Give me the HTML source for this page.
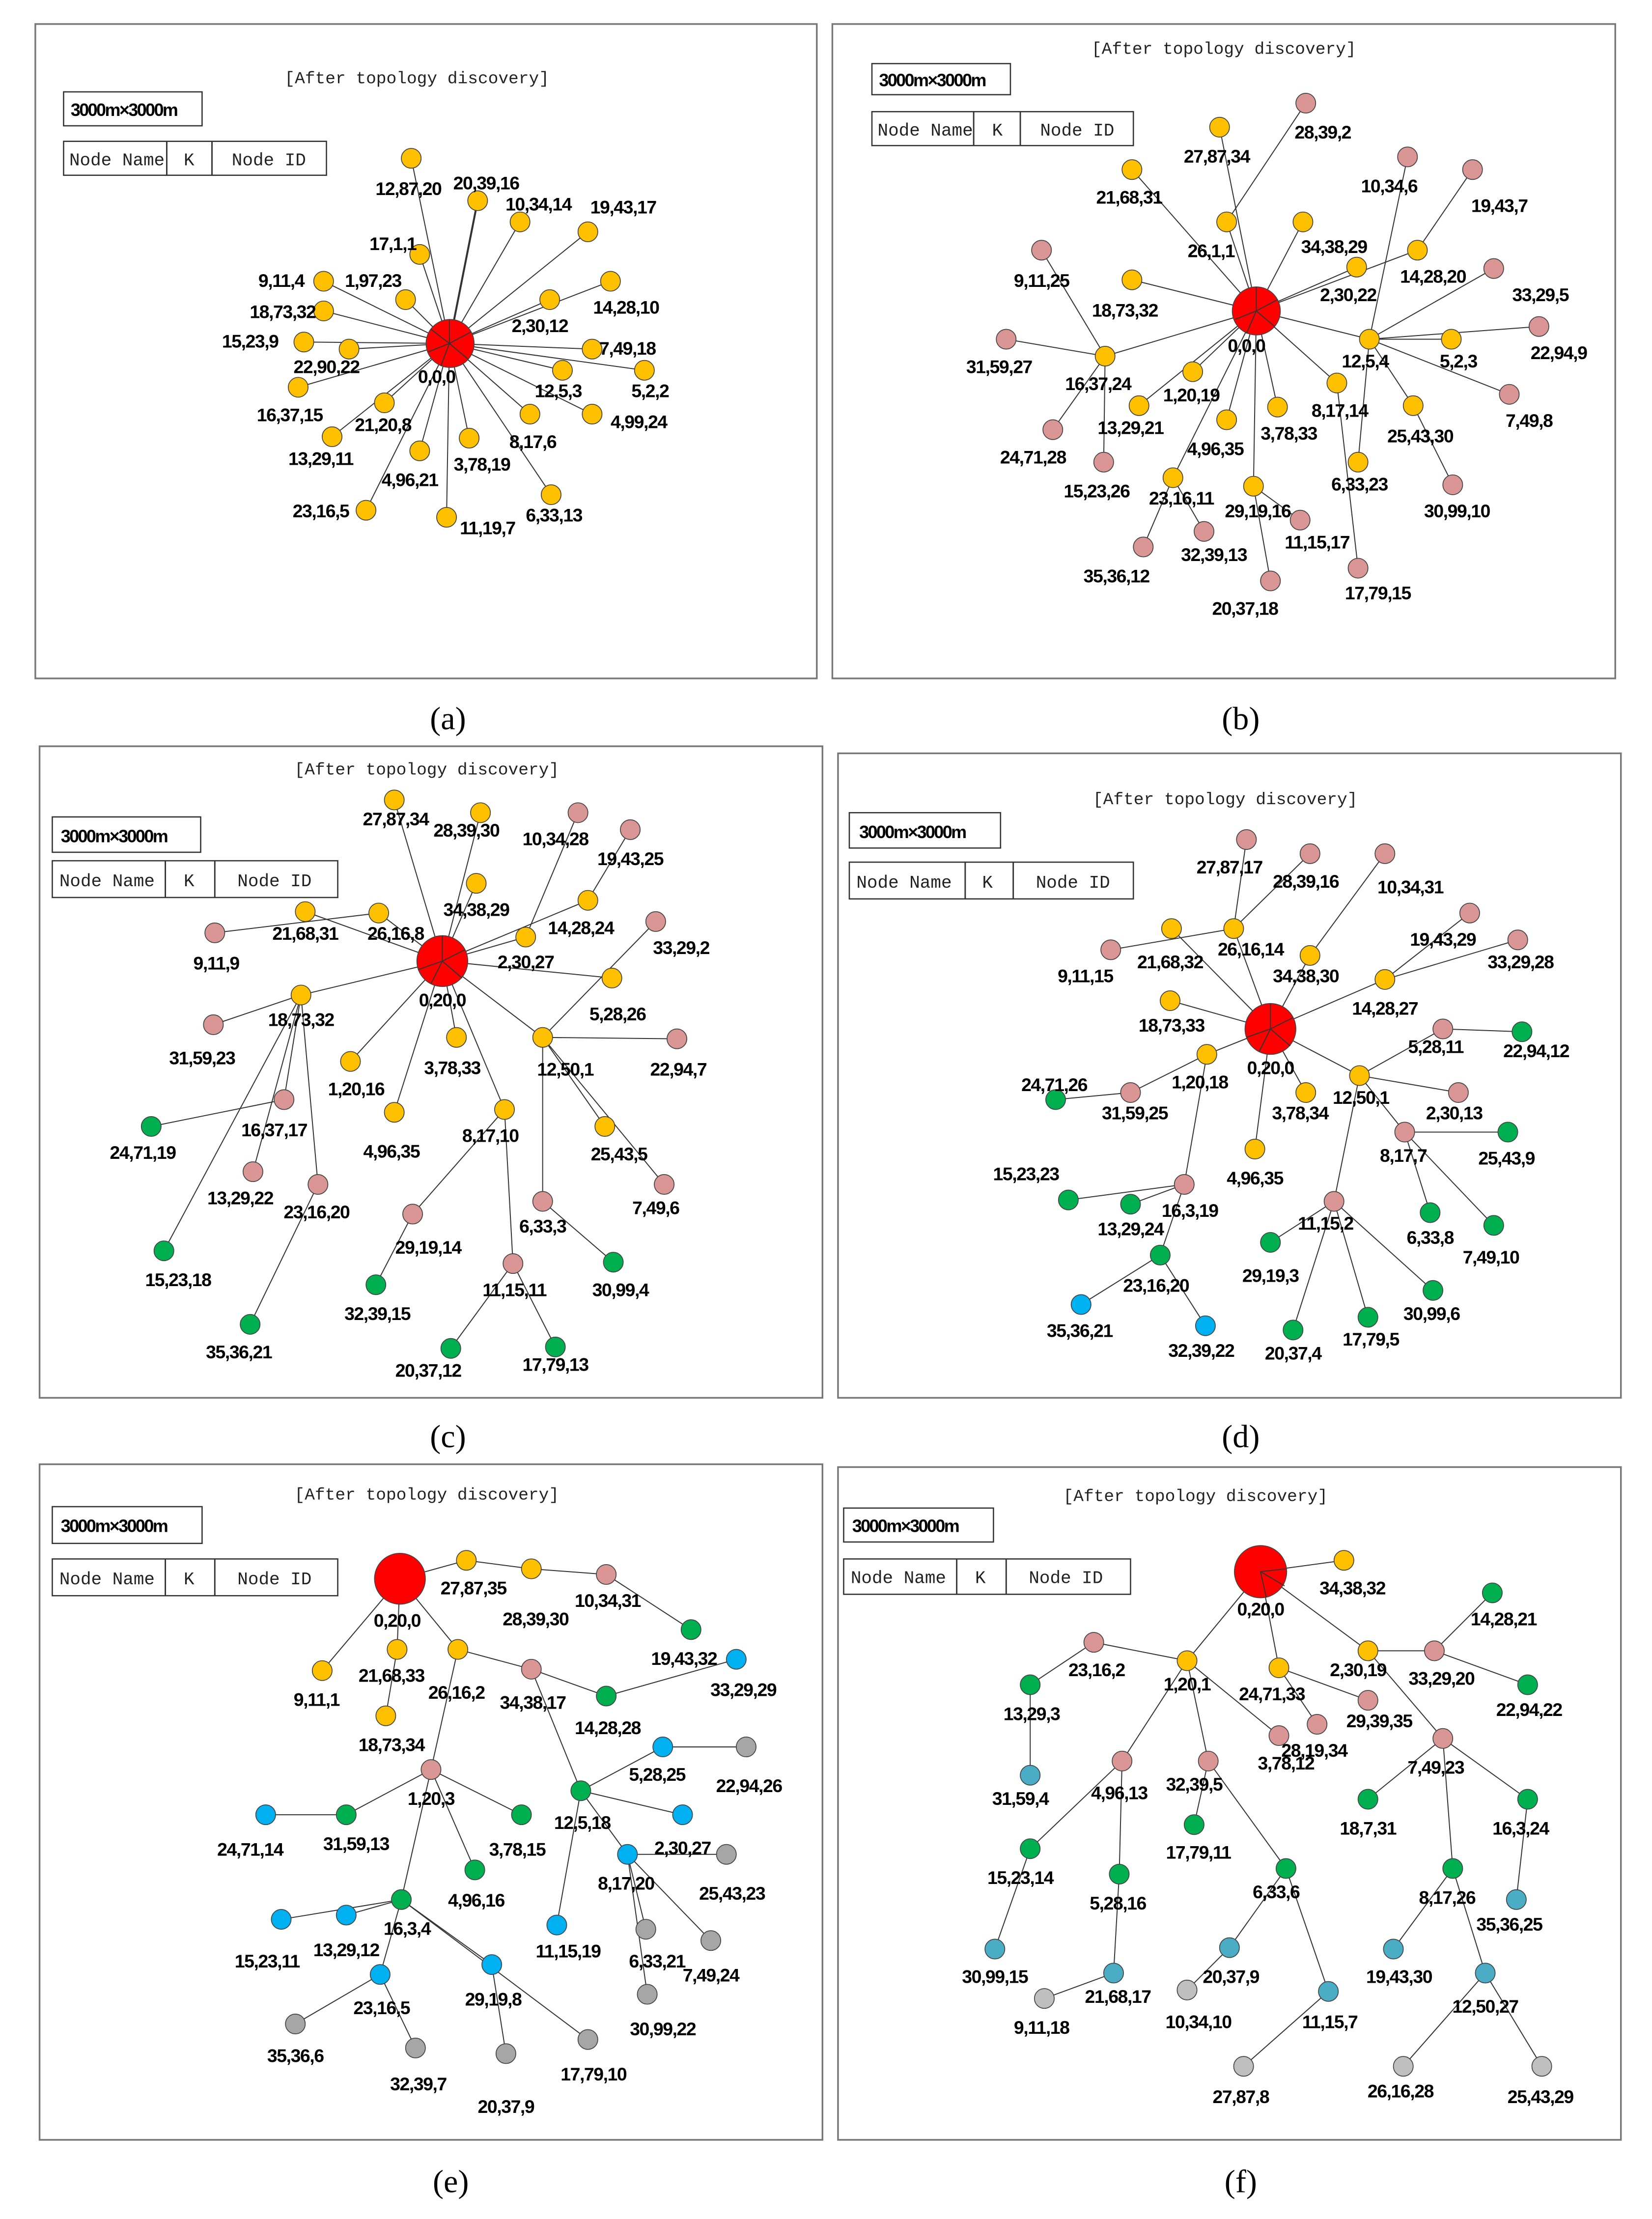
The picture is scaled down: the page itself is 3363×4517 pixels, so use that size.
<!DOCTYPE html>
<html><head><meta charset="utf-8">
<style>
html,body{margin:0;padding:0;background:#fff}
svg{display:block}
.l line{stroke:#333;stroke-width:.7}
circle{stroke:#444;stroke-width:.6}
.y{fill:#ffc000}.p{fill:#d99694}.g{fill:#00b050}.b{fill:#00b0f0}.gr{fill:#a6a6a6}.t{fill:#4bacc6}.s{fill:#bfbfbf}.r{fill:#ff0000}
text.n{font-family:"Liberation Sans",sans-serif;font-weight:bold;font-size:13px;text-anchor:middle;letter-spacing:-0.5px;fill:#000}
text.h{font-family:"Liberation Mono",monospace;font-size:12px;text-anchor:middle;fill:#222}
text.k{font-family:"Liberation Sans",sans-serif;font-weight:bold;font-size:12.5px;letter-spacing:-0.9px;fill:#000}
text.m{font-family:"Liberation Mono",monospace;font-size:12.5px;fill:#222}
text.c{font-family:"Liberation Serif",serif;font-size:23px;text-anchor:middle;fill:#000}
rect.f{fill:none;stroke:#777;stroke-width:1.2}
rect.o{fill:#fff;stroke:#333;stroke-width:.9}
</style></head><body>
<svg xmlns="http://www.w3.org/2000/svg" width="3363" height="4517" viewBox="0 0 1169 1570" preserveAspectRatio="none">
<rect width="1169" height="1570" fill="#fff"/>
<rect class="f" x="25" y="17" width="553" height="463"/>
<rect class="f" x="589" y="17" width="554" height="463"/>
<rect class="f" x="28" y="528" width="554" height="461"/>
<rect class="f" x="593" y="533" width="554" height="456"/>
<rect class="f" x="28" y="1036" width="554" height="478"/>
<rect class="f" x="593" y="1038" width="554" height="476"/>
<text class="c" x="317" y="516">(a)</text>
<text class="c" x="878" y="516">(b)</text>
<text class="c" x="317" y="1024">(c)</text>
<text class="c" x="878" y="1024">(d)</text>
<text class="c" x="319" y="1551">(e)</text>
<text class="c" x="878" y="1551">(f)</text>
<text class="h" x="295" y="59">[After topology discovery]</text>
<rect class="o" x="45" y="65" width="98" height="24"/><text class="k" x="50" y="82">3000m×3000m</text>
<rect class="o" x="45" y="100" width="186" height="24"/><line x1="118" y1="100" x2="118" y2="124" stroke="#333"/><line x1="150" y1="100" x2="150" y2="124" stroke="#333"/>
<text class="m" x="49" y="117">Node Name</text><text class="m" x="130" y="117">K</text><text class="m" x="164" y="117">Node ID</text>

<text class="h" x="866" y="38">[After topology discovery]</text>
<rect class="o" x="617" y="45" width="98" height="22"/><text class="k" x="622" y="61">3000m×3000m</text>
<rect class="o" x="617" y="79" width="185" height="24"/><line x1="689" y1="79" x2="689" y2="103" stroke="#333"/><line x1="722" y1="79" x2="722" y2="103" stroke="#333"/>
<text class="m" x="621" y="96">Node Name</text><text class="m" x="702" y="96">K</text><text class="m" x="736" y="96">Node ID</text>

<text class="h" x="302" y="548">[After topology discovery]</text>
<rect class="o" x="37" y="578" width="105" height="25"/><text class="k" x="43" y="596">3000m×3000m</text>
<rect class="o" x="37" y="609" width="202" height="26"/><line x1="117" y1="609" x2="117" y2="635" stroke="#333"/><line x1="152" y1="609" x2="152" y2="635" stroke="#333"/>
<text class="m" x="42" y="627">Node Name</text><text class="m" x="130" y="627">K</text><text class="m" x="168" y="627">Node ID</text>

<text class="h" x="867" y="569">[After topology discovery]</text>
<rect class="o" x="601" y="575" width="107" height="25"/><text class="k" x="608" y="593">3000m×3000m</text>
<rect class="o" x="601" y="610" width="201" height="26"/><line x1="683" y1="610" x2="683" y2="636" stroke="#333"/><line x1="717" y1="610" x2="717" y2="636" stroke="#333"/>
<text class="m" x="606" y="628">Node Name</text><text class="m" x="695" y="628">K</text><text class="m" x="733" y="628">Node ID</text>

<text class="h" x="302" y="1061">[After topology discovery]</text>
<rect class="o" x="37" y="1066" width="106" height="26"/><text class="k" x="43" y="1084">3000m×3000m</text>
<rect class="o" x="37" y="1103" width="202" height="26"/><line x1="117" y1="1103" x2="117" y2="1129" stroke="#333"/><line x1="152" y1="1103" x2="152" y2="1129" stroke="#333"/>
<text class="m" x="42" y="1121">Node Name</text><text class="m" x="130" y="1121">K</text><text class="m" x="168" y="1121">Node ID</text>

<text class="h" x="846" y="1062">[After topology discovery]</text>
<rect class="o" x="597" y="1067" width="106" height="24"/><text class="k" x="603" y="1084">3000m×3000m</text>
<rect class="o" x="597" y="1103" width="203" height="25"/><line x1="677" y1="1103" x2="677" y2="1128" stroke="#333"/><line x1="712" y1="1103" x2="712" y2="1128" stroke="#333"/>
<text class="m" x="602" y="1120">Node Name</text><text class="m" x="690" y="1120">K</text><text class="m" x="728" y="1120">Node ID</text>

<!-- ===== (a) ===== -->
<g class="l">
<line x1="318" y1="243" x2="291" y2="112"/><line x1="318" y1="243" x2="338" y2="142" style="stroke-width:1.4"/><line x1="318" y1="243" x2="368" y2="157"/><line x1="318" y1="243" x2="416" y2="164"/><line x1="318" y1="243" x2="297" y2="180"/><line x1="318" y1="243" x2="229" y2="199"/><line x1="318" y1="243" x2="287" y2="212"/><line x1="318" y1="243" x2="229" y2="220"/><line x1="318" y1="243" x2="215" y2="242"/><line x1="318" y1="243" x2="247" y2="247"/><line x1="318" y1="243" x2="211" y2="274"/><line x1="318" y1="243" x2="272" y2="285"/><line x1="318" y1="243" x2="235" y2="309"/><line x1="318" y1="243" x2="297" y2="319"/><line x1="318" y1="243" x2="332" y2="310"/><line x1="318" y1="243" x2="259" y2="361"/><line x1="318" y1="243" x2="316" y2="366"/><line x1="318" y1="243" x2="390" y2="350"/><line x1="318" y1="243" x2="375" y2="293"/><line x1="318" y1="243" x2="398" y2="262"/><line x1="318" y1="243" x2="419" y2="293"/><line x1="318" y1="243" x2="456" y2="262"/><line x1="318" y1="243" x2="419" y2="247"/><line x1="318" y1="243" x2="432" y2="199"/><line x1="318" y1="243" x2="389" y2="212"/>
</g>
<circle class="r" cx="318.5" cy="243" r="17"/>
<g class="l"><line x1="318" y1="243" x2="318" y2="226"/><line x1="318" y1="243" x2="333" y2="235"/><line x1="318" y1="243" x2="331" y2="254"/><line x1="318" y1="243" x2="312" y2="259"/><line x1="318" y1="243" x2="303" y2="249"/><line x1="318" y1="243" x2="305" y2="233"/></g>
<g class="y">
<circle cx="291" cy="112" r="7"/><circle cx="338" cy="142" r="7"/><circle cx="368" cy="157" r="7"/><circle cx="416" cy="164" r="7"/><circle cx="297" cy="180" r="7"/><circle cx="229" cy="199" r="7"/><circle cx="287" cy="212" r="7"/><circle cx="229" cy="220" r="7"/><circle cx="215" cy="242" r="7"/><circle cx="247" cy="247" r="7"/><circle cx="211" cy="274" r="7"/><circle cx="272" cy="285" r="7"/><circle cx="235" cy="309" r="7"/><circle cx="297" cy="319" r="7"/><circle cx="332" cy="310" r="7"/><circle cx="259" cy="361" r="7"/><circle cx="316" cy="366" r="7"/><circle cx="390" cy="350" r="7"/><circle cx="375" cy="293" r="7"/><circle cx="398" cy="262" r="7"/><circle cx="419" cy="293" r="7"/><circle cx="456" cy="262" r="7"/><circle cx="419" cy="247" r="7"/><circle cx="432" cy="199" r="7"/><circle cx="389" cy="212" r="7"/>
</g>
<g>
<text class="n" x="289" y="138">12,87,20</text><text class="n" x="344" y="134">20,39,16</text><text class="n" x="381" y="149">10,34,14</text><text class="n" x="441" y="151">19,43,17</text><text class="n" x="278" y="177">17,1,1</text><text class="n" x="199" y="203">9,11,4</text><text class="n" x="264" y="203">1,97,23</text><text class="n" x="200" y="225">18,73,32</text><text class="n" x="177" y="246">15,23,9</text><text class="n" x="231" y="264">22,90,22</text><text class="n" x="309" y="271">0,0,0</text><text class="n" x="205" y="298">16,37,15</text><text class="n" x="271" y="305">21,20,8</text><text class="n" x="227" y="329">13,29,11</text><text class="n" x="290" y="344">4,96,21</text><text class="n" x="341" y="333">3,78,19</text><text class="n" x="227" y="366">23,16,5</text><text class="n" x="345" y="378">11,19,7</text><text class="n" x="392" y="369">6,33,13</text><text class="n" x="377" y="317">8,17,6</text><text class="n" x="395" y="281">12,5,3</text><text class="n" x="452" y="303">4,99,24</text><text class="n" x="460" y="281">5,2,2</text><text class="n" x="444" y="251">7,49,18</text><text class="n" x="443" y="222">14,28,10</text><text class="n" x="382" y="235">2,30,12</text>
</g>

<!-- ===== (b) ===== -->
<g class="l">
<line x1="889" y1="220" x2="863" y2="90"/><line x1="889" y1="220" x2="801" y2="120"/><line x1="889" y1="220" x2="868" y2="157"/><line x1="889" y1="220" x2="922" y2="157"/><line x1="889" y1="220" x2="960" y2="189"/><line x1="889" y1="220" x2="1003" y2="177"/><line x1="889" y1="220" x2="801" y2="198"/><line x1="889" y1="220" x2="782" y2="252"/><line x1="889" y1="220" x2="969" y2="240"/><line x1="889" y1="220" x2="844" y2="263"/><line x1="889" y1="220" x2="806" y2="287"/><line x1="889" y1="220" x2="946" y2="271"/><line x1="889" y1="220" x2="904" y2="288"/><line x1="889" y1="220" x2="868" y2="297"/><line x1="889" y1="220" x2="830" y2="338"/><line x1="889" y1="220" x2="887" y2="344"/>
<line x1="868" y1="157" x2="924" y2="73"/><line x1="969" y1="240" x2="996" y2="111"/><line x1="1003" y1="177" x2="1042" y2="120"/><line x1="969" y1="240" x2="1057" y2="190"/><line x1="969" y1="240" x2="1089" y2="231"/><line x1="969" y1="240" x2="1068" y2="279"/><line x1="969" y1="240" x2="1027" y2="240"/><line x1="969" y1="240" x2="1000" y2="287"/><line x1="969" y1="240" x2="961" y2="327"/><line x1="1000" y1="287" x2="1028" y2="343"/><line x1="946" y1="271" x2="961" y2="402"/>
<line x1="782" y1="252" x2="737" y2="177"/><line x1="782" y1="252" x2="712" y2="240"/><line x1="782" y1="252" x2="745" y2="304"/><line x1="782" y1="252" x2="781" y2="327"/><line x1="830" y1="338" x2="809" y2="387"/><line x1="830" y1="338" x2="852" y2="376"/><line x1="887" y1="344" x2="920" y2="368"/><line x1="887" y1="344" x2="899" y2="411"/>
</g>
<circle class="r" cx="889" cy="220" r="17"/>
<g class="l"><line x1="889" y1="220" x2="889" y2="203"/><line x1="889" y1="220" x2="904" y2="212"/><line x1="889" y1="220" x2="902" y2="231"/><line x1="889" y1="220" x2="882" y2="236"/><line x1="889" y1="220" x2="874" y2="226"/></g>
<g class="y"><circle cx="863" cy="90" r="7"/><circle cx="801" cy="120" r="7"/><circle cx="868" cy="157" r="7"/><circle cx="922" cy="157" r="7"/><circle cx="960" cy="189" r="7"/><circle cx="1003" cy="177" r="7"/><circle cx="801" cy="198" r="7"/><circle cx="782" cy="252" r="7"/><circle cx="969" cy="240" r="7"/><circle cx="1027" cy="240" r="7"/><circle cx="844" cy="263" r="7"/><circle cx="806" cy="287" r="7"/><circle cx="946" cy="271" r="7"/><circle cx="904" cy="288" r="7"/><circle cx="868" cy="297" r="7"/><circle cx="1000" cy="287" r="7"/><circle cx="961" cy="327" r="7"/><circle cx="830" cy="338" r="7"/><circle cx="887" cy="344" r="7"/></g>
<g class="p"><circle cx="924" cy="73" r="7"/><circle cx="996" cy="111" r="7"/><circle cx="1042" cy="120" r="7"/><circle cx="737" cy="177" r="7"/><circle cx="1057" cy="190" r="7"/><circle cx="1089" cy="231" r="7"/><circle cx="712" cy="240" r="7"/><circle cx="1068" cy="279" r="7"/><circle cx="745" cy="304" r="7"/><circle cx="781" cy="327" r="7"/><circle cx="1028" cy="343" r="7"/><circle cx="920" cy="368" r="7"/><circle cx="852" cy="376" r="7"/><circle cx="809" cy="387" r="7"/><circle cx="961" cy="402" r="7"/><circle cx="899" cy="411" r="7"/></g>
<g>
<text class="n" x="861" y="115">27,87,34</text><text class="n" x="936" y="98">28,39,2</text><text class="n" x="799" y="144">21,68,31</text><text class="n" x="983" y="136">10,34,6</text><text class="n" x="1061" y="150">19,43,7</text><text class="n" x="857" y="182">26,1,1</text><text class="n" x="944" y="179">34,38,29</text><text class="n" x="737" y="203">9,11,25</text><text class="n" x="954" y="213">2,30,22</text><text class="n" x="1014" y="200">14,28,20</text><text class="n" x="1090" y="213">33,29,5</text><text class="n" x="796" y="224">18,73,32</text><text class="n" x="1103" y="254">22,94,9</text><text class="n" x="707" y="264">31,59,27</text><text class="n" x="777" y="276">16,37,24</text><text class="n" x="882" y="249">0,0,0</text><text class="n" x="966" y="260">12,5,4</text><text class="n" x="1032" y="260">5,2,3</text><text class="n" x="843" y="284">1,20,19</text><text class="n" x="800" y="307">13,29,21</text><text class="n" x="1082" y="302">7,49,8</text><text class="n" x="948" y="295">8,17,14</text><text class="n" x="912" y="311">3,78,33</text><text class="n" x="731" y="328">24,71,28</text><text class="n" x="860" y="322">4,96,35</text><text class="n" x="1005" y="313">25,43,30</text><text class="n" x="776" y="352">15,23,26</text><text class="n" x="962" y="347">6,33,23</text><text class="n" x="836" y="357">23,16,11</text><text class="n" x="890" y="366">29,19,16</text><text class="n" x="1031" y="366">30,99,10</text><text class="n" x="932" y="388">11,15,17</text><text class="n" x="859" y="397">32,39,13</text><text class="n" x="790" y="412">35,36,12</text><text class="n" x="975" y="424">17,79,15</text><text class="n" x="881" y="435">20,37,18</text>
</g>

<!-- ===== (c) ===== -->
<g class="l">
<line x1="313" y1="680" x2="279" y2="566"/><line x1="313" y1="680" x2="340" y2="575"/><line x1="313" y1="680" x2="337" y2="625"/><line x1="313" y1="680" x2="416" y2="637"/><line x1="313" y1="680" x2="268" y2="646"/><line x1="313" y1="680" x2="216" y2="645"/><line x1="313" y1="680" x2="372" y2="663"/><line x1="313" y1="680" x2="433" y2="692"/><line x1="313" y1="680" x2="213" y2="704"/><line x1="313" y1="680" x2="248" y2="751"/><line x1="313" y1="680" x2="323" y2="734"/><line x1="313" y1="680" x2="279" y2="787"/><line x1="313" y1="680" x2="357" y2="785"/><line x1="313" y1="680" x2="384" y2="734"/>
<line x1="372" y1="663" x2="409" y2="575"/><line x1="416" y1="637" x2="446" y2="587"/><line x1="384" y1="734" x2="464" y2="652"/><line x1="268" y1="646" x2="152" y2="660"/><line x1="213" y1="704" x2="151" y2="725"/><line x1="213" y1="704" x2="201" y2="778"/><line x1="213" y1="704" x2="179" y2="829"/><line x1="213" y1="704" x2="225" y2="838"/><line x1="201" y1="778" x2="107" y2="797"/><line x1="213" y1="704" x2="116" y2="885"/><line x1="225" y1="838" x2="177" y2="937"/>
<line x1="384" y1="734" x2="479" y2="735"/><line x1="384" y1="734" x2="428" y2="797"/><line x1="384" y1="734" x2="470" y2="838"/><line x1="384" y1="734" x2="384" y2="850"/><line x1="384" y1="850" x2="434" y2="893"/><line x1="357" y1="785" x2="292" y2="859"/><line x1="292" y1="859" x2="266" y2="909"/><line x1="357" y1="785" x2="363" y2="894"/><line x1="363" y1="894" x2="319" y2="954"/><line x1="363" y1="894" x2="393" y2="953"/>
</g>
<circle class="r" cx="313" cy="680" r="18"/>
<g class="l"><line x1="313" y1="680" x2="313" y2="662"/><line x1="313" y1="680" x2="329" y2="672"/><line x1="313" y1="680" x2="327" y2="692"/><line x1="313" y1="680" x2="305" y2="696"/><line x1="313" y1="680" x2="296" y2="686"/></g>
<g class="y"><circle cx="279" cy="566" r="7"/><circle cx="340" cy="575" r="7"/><circle cx="337" cy="625" r="7"/><circle cx="416" cy="637" r="7"/><circle cx="268" cy="646" r="7"/><circle cx="216" cy="645" r="7"/><circle cx="372" cy="663" r="7"/><circle cx="433" cy="692" r="7"/><circle cx="213" cy="704" r="7"/><circle cx="248" cy="751" r="7"/><circle cx="323" cy="734" r="7"/><circle cx="279" cy="787" r="7"/><circle cx="357" cy="785" r="7"/><circle cx="384" cy="734" r="7"/><circle cx="428" cy="797" r="7"/></g>
<g class="p"><circle cx="409" cy="575" r="7"/><circle cx="446" cy="587" r="7"/><circle cx="464" cy="652" r="7"/><circle cx="152" cy="660" r="7"/><circle cx="151" cy="725" r="7"/><circle cx="479" cy="735" r="7"/><circle cx="201" cy="778" r="7"/><circle cx="470" cy="838" r="7"/><circle cx="179" cy="829" r="7"/><circle cx="225" cy="838" r="7"/><circle cx="384" cy="850" r="7"/><circle cx="292" cy="859" r="7"/><circle cx="363" cy="894" r="7"/></g>
<g class="g"><circle cx="107" cy="797" r="7"/><circle cx="116" cy="885" r="7"/><circle cx="434" cy="893" r="7"/><circle cx="266" cy="909" r="7"/><circle cx="177" cy="937" r="7"/><circle cx="319" cy="954" r="7"/><circle cx="393" cy="953" r="7"/></g>
<g>
<text class="n" x="280" y="584">27,87,34</text><text class="n" x="330" y="592">28,39,30</text><text class="n" x="393" y="598">10,34,28</text><text class="n" x="446" y="612">19,43,25</text><text class="n" x="337" y="648">34,38,29</text><text class="n" x="411" y="661">14,28,24</text><text class="n" x="482" y="675">33,29,2</text><text class="n" x="216" y="665">21,68,31</text><text class="n" x="280" y="665">26,16,8</text><text class="n" x="153" y="686">9,11,9</text><text class="n" x="372" y="685">2,30,27</text><text class="n" x="313" y="712">0,20,0</text><text class="n" x="437" y="722">5,28,26</text><text class="n" x="213" y="726">18,73,32</text><text class="n" x="143" y="753">31,59,23</text><text class="n" x="400" y="761">12,50,1</text><text class="n" x="480" y="761">22,94,7</text><text class="n" x="252" y="775">1,20,16</text><text class="n" x="320" y="760">3,78,33</text><text class="n" x="194" y="804">16,37,17</text><text class="n" x="101" y="820">24,71,19</text><text class="n" x="277" y="819">4,96,35</text><text class="n" x="347" y="808">8,17,10</text><text class="n" x="438" y="821">25,43,5</text><text class="n" x="464" y="859">7,49,6</text><text class="n" x="170" y="852">13,29,22</text><text class="n" x="224" y="862">23,16,20</text><text class="n" x="384" y="872">6,33,3</text><text class="n" x="303" y="887">29,19,14</text><text class="n" x="126" y="910">15,23,18</text><text class="n" x="439" y="917">30,99,4</text><text class="n" x="364" y="917">11,15,11</text><text class="n" x="267" y="934">32,39,15</text><text class="n" x="169" y="961">35,36,21</text><text class="n" x="303" y="974">20,37,12</text><text class="n" x="393" y="970">17,79,13</text>
</g>

<!-- ===== (d) ===== -->
<g class="l">
<line x1="899" y1="728" x2="873" y2="657"/><line x1="899" y1="728" x2="927" y2="676"/><line x1="899" y1="728" x2="980" y2="693"/><line x1="899" y1="728" x2="828" y2="708"/><line x1="899" y1="728" x2="829" y2="657"/><line x1="899" y1="728" x2="854" y2="746"/><line x1="899" y1="728" x2="924" y2="773"/><line x1="899" y1="728" x2="962" y2="761"/><line x1="899" y1="728" x2="888" y2="813"/>
<line x1="873" y1="657" x2="882" y2="594"/><line x1="873" y1="657" x2="927" y2="604"/><line x1="873" y1="657" x2="786" y2="672"/><line x1="927" y1="676" x2="980" y2="604"/><line x1="980" y1="693" x2="1040" y2="646"/><line x1="980" y1="693" x2="1074" y2="665"/>
<line x1="962" y1="761" x2="1021" y2="728"/><line x1="1021" y1="728" x2="1077" y2="730"/><line x1="962" y1="761" x2="1032" y2="773"/><line x1="962" y1="761" x2="994" y2="801"/><line x1="994" y1="801" x2="1067" y2="801"/><line x1="994" y1="801" x2="1012" y2="858"/><line x1="994" y1="801" x2="1057" y2="867"/><line x1="962" y1="761" x2="944" y2="850"/><line x1="944" y1="850" x2="899" y2="879"/><line x1="944" y1="850" x2="1014" y2="913"/><line x1="944" y1="850" x2="968" y2="932"/><line x1="944" y1="850" x2="915" y2="941"/>
<line x1="854" y1="746" x2="800" y2="773"/><line x1="800" y1="773" x2="747" y2="778"/><line x1="854" y1="746" x2="838" y2="838"/><line x1="838" y1="838" x2="756" y2="849"/><line x1="838" y1="838" x2="800" y2="852"/><line x1="838" y1="838" x2="821" y2="888"/><line x1="821" y1="888" x2="765" y2="923"/><line x1="821" y1="888" x2="853" y2="938"/>
</g>
<circle class="r" cx="899" cy="728" r="18"/>
<g class="l"><line x1="899" y1="728" x2="899" y2="710"/><line x1="899" y1="728" x2="915" y2="720"/><line x1="899" y1="728" x2="913" y2="740"/><line x1="899" y1="728" x2="891" y2="744"/><line x1="899" y1="728" x2="882" y2="734"/></g>
<g class="y"><circle cx="873" cy="657" r="7"/><circle cx="927" cy="676" r="7"/><circle cx="980" cy="693" r="7"/><circle cx="828" cy="708" r="7"/><circle cx="829" cy="657" r="7"/><circle cx="854" cy="746" r="7"/><circle cx="924" cy="773" r="7"/><circle cx="962" cy="761" r="7"/><circle cx="888" cy="813" r="7"/></g>
<g class="p"><circle cx="882" cy="594" r="7"/><circle cx="927" cy="604" r="7"/><circle cx="980" cy="604" r="7"/><circle cx="1040" cy="646" r="7"/><circle cx="1074" cy="665" r="7"/><circle cx="786" cy="672" r="7"/><circle cx="1021" cy="728" r="7"/><circle cx="800" cy="773" r="7"/><circle cx="1032" cy="773" r="7"/><circle cx="994" cy="801" r="7"/><circle cx="838" cy="838" r="7"/><circle cx="944" cy="850" r="7"/></g>
<g class="g"><circle cx="1077" cy="730" r="7"/><circle cx="747" cy="778" r="7"/><circle cx="1067" cy="801" r="7"/><circle cx="756" cy="849" r="7"/><circle cx="800" cy="852" r="7"/><circle cx="1012" cy="858" r="7"/><circle cx="1057" cy="867" r="7"/><circle cx="899" cy="879" r="7"/><circle cx="821" cy="888" r="7"/><circle cx="1014" cy="913" r="7"/><circle cx="968" cy="932" r="7"/><circle cx="915" cy="941" r="7"/></g>
<g class="b"><circle cx="765" cy="923" r="7"/><circle cx="853" cy="938" r="7"/></g>
<g>
<text class="n" x="870" y="618">27,87,17</text><text class="n" x="924" y="628">28,39,16</text><text class="n" x="998" y="632">10,34,31</text><text class="n" x="1021" y="669">19,43,29</text><text class="n" x="1076" y="685">33,29,28</text><text class="n" x="768" y="695">9,11,15</text><text class="n" x="828" y="685">21,68,32</text><text class="n" x="885" y="676">26,16,14</text><text class="n" x="924" y="695">34,38,30</text><text class="n" x="980" y="718">14,28,27</text><text class="n" x="829" y="730">18,73,33</text><text class="n" x="1016" y="745">5,28,11</text><text class="n" x="1087" y="748">22,94,12</text><text class="n" x="849" y="770">1,20,18</text><text class="n" x="899" y="760">0,20,0</text><text class="n" x="746" y="772">24,71,26</text><text class="n" x="803" y="792">31,59,25</text><text class="n" x="920" y="792">3,78,34</text><text class="n" x="963" y="781">12,50,1</text><text class="n" x="1029" y="792">2,30,13</text><text class="n" x="993" y="822">8,17,7</text><text class="n" x="1066" y="824">25,43,9</text><text class="n" x="888" y="838">4,96,35</text><text class="n" x="726" y="835">15,23,23</text><text class="n" x="842" y="861">16,3,19</text><text class="n" x="800" y="874">13,29,24</text><text class="n" x="938" y="870">11,15,2</text><text class="n" x="1012" y="880">6,33,8</text><text class="n" x="1055" y="894">7,49,10</text><text class="n" x="899" y="907">29,19,3</text><text class="n" x="818" y="914">23,16,20</text><text class="n" x="1013" y="934">30,99,6</text><text class="n" x="764" y="946">35,36,21</text><text class="n" x="970" y="952">17,79,5</text><text class="n" x="850" y="960">32,39,22</text><text class="n" x="915" y="962">20,37,4</text>
</g>

<!-- ===== (e) ===== -->
<g class="l">
<line x1="283" y1="1117" x2="330" y2="1104"/><line x1="330" y1="1104" x2="376" y2="1110"/><line x1="376" y1="1110" x2="429" y2="1114"/><line x1="429" y1="1114" x2="489" y2="1153"/><line x1="283" y1="1117" x2="228" y2="1182"/><line x1="283" y1="1117" x2="281" y2="1167"/><line x1="281" y1="1167" x2="273" y2="1214"/><line x1="283" y1="1117" x2="324" y2="1167"/><line x1="324" y1="1167" x2="376" y2="1181"/><line x1="376" y1="1181" x2="429" y2="1200"/><line x1="429" y1="1200" x2="521" y2="1174"/><line x1="376" y1="1181" x2="411" y2="1267"/>
<line x1="324" y1="1167" x2="305" y2="1252"/><line x1="305" y1="1252" x2="245" y2="1284"/><line x1="245" y1="1284" x2="188" y2="1284"/><line x1="305" y1="1252" x2="369" y2="1284"/><line x1="305" y1="1252" x2="336" y2="1323"/><line x1="305" y1="1252" x2="284" y2="1344"/>
<line x1="411" y1="1267" x2="469" y2="1236"/><line x1="469" y1="1236" x2="528" y2="1236"/><line x1="411" y1="1267" x2="483" y2="1284"/><line x1="411" y1="1267" x2="444" y2="1312"/><line x1="411" y1="1267" x2="394" y2="1362"/><line x1="444" y1="1312" x2="514" y2="1312"/><line x1="444" y1="1312" x2="457" y2="1365"/><line x1="444" y1="1312" x2="503" y2="1373"/><line x1="444" y1="1312" x2="458" y2="1411"/>
<line x1="284" y1="1344" x2="199" y2="1358"/><line x1="284" y1="1344" x2="245" y2="1355"/><line x1="284" y1="1344" x2="269" y2="1397"/><line x1="284" y1="1344" x2="348" y2="1390"/><line x1="284" y1="1344" x2="416" y2="1443"/><line x1="269" y1="1397" x2="209" y2="1432"/><line x1="269" y1="1397" x2="294" y2="1449"/><line x1="348" y1="1390" x2="358" y2="1453"/>
</g>
<circle class="r" cx="283" cy="1117" r="18"/>
<g class="y"><circle cx="330" cy="1104" r="7"/><circle cx="376" cy="1110" r="7"/><circle cx="228" cy="1182" r="7"/><circle cx="281" cy="1167" r="7"/><circle cx="324" cy="1167" r="7"/><circle cx="273" cy="1214" r="7"/></g>
<g class="p"><circle cx="429" cy="1114" r="7"/><circle cx="376" cy="1181" r="7"/><circle cx="305" cy="1252" r="7"/></g>
<g class="g"><circle cx="489" cy="1153" r="7"/><circle cx="429" cy="1200" r="7"/><circle cx="411" cy="1267" r="7"/><circle cx="245" cy="1284" r="7"/><circle cx="369" cy="1284" r="7"/><circle cx="336" cy="1323" r="7"/><circle cx="284" cy="1344" r="7"/></g>
<g class="b"><circle cx="521" cy="1174" r="7"/><circle cx="469" cy="1236" r="7"/><circle cx="188" cy="1284" r="7"/><circle cx="483" cy="1284" r="7"/><circle cx="444" cy="1312" r="7"/><circle cx="394" cy="1362" r="7"/><circle cx="199" cy="1358" r="7"/><circle cx="245" cy="1355" r="7"/><circle cx="269" cy="1397" r="7"/><circle cx="348" cy="1390" r="7"/></g>
<g class="gr"><circle cx="528" cy="1236" r="7"/><circle cx="514" cy="1312" r="7"/><circle cx="457" cy="1365" r="7"/><circle cx="503" cy="1373" r="7"/><circle cx="458" cy="1411" r="7"/><circle cx="209" cy="1432" r="7"/><circle cx="294" cy="1449" r="7"/><circle cx="358" cy="1453" r="7"/><circle cx="416" cy="1443" r="7"/></g>
<g>
<text class="n" x="335" y="1128">27,87,35</text><text class="n" x="379" y="1150">28,39,30</text><text class="n" x="430" y="1137">10,34,31</text><text class="n" x="224" y="1207">9,11,1</text><text class="n" x="277" y="1190">21,68,33</text><text class="n" x="281" y="1151">0,20,0</text><text class="n" x="323" y="1202">26,16,2</text><text class="n" x="377" y="1209">34,38,17</text><text class="n" x="484" y="1178">19,43,32</text><text class="n" x="526" y="1200">33,29,29</text><text class="n" x="430" y="1227">14,28,28</text><text class="n" x="277" y="1239">18,73,34</text><text class="n" x="465" y="1260">5,28,25</text><text class="n" x="530" y="1268">22,94,26</text><text class="n" x="305" y="1277">1,20,3</text><text class="n" x="412" y="1294">12,5,18</text><text class="n" x="177" y="1313">24,71,14</text><text class="n" x="252" y="1309">31,59,13</text><text class="n" x="366" y="1313">3,78,15</text><text class="n" x="483" y="1312">2,30,27</text><text class="n" x="443" y="1337">8,17,20</text><text class="n" x="518" y="1344">25,43,23</text><text class="n" x="337" y="1349">4,96,16</text><text class="n" x="465" y="1392">6,33,21</text><text class="n" x="503" y="1402">7,49,24</text><text class="n" x="402" y="1385">11,15,19</text><text class="n" x="469" y="1440">30,99,22</text><text class="n" x="288" y="1369">16,3,4</text><text class="n" x="189" y="1392">15,23,11</text><text class="n" x="245" y="1384">13,29,12</text><text class="n" x="270" y="1425">23,16,5</text><text class="n" x="349" y="1419">29,19,8</text><text class="n" x="209" y="1459">35,36,6</text><text class="n" x="296" y="1479">32,39,7</text><text class="n" x="358" y="1495">20,37,9</text><text class="n" x="420" y="1472">17,79,10</text>
</g>

<!-- ===== (f) ===== -->
<g class="l">
<line x1="892" y1="1112" x2="951" y2="1104"/><line x1="892" y1="1112" x2="840" y2="1175"/><line x1="892" y1="1112" x2="905" y2="1180"/><line x1="892" y1="1112" x2="968" y2="1168"/>
<line x1="840" y1="1175" x2="774" y2="1162"/><line x1="774" y1="1162" x2="729" y2="1192"/><line x1="729" y1="1192" x2="729" y2="1256"/><line x1="840" y1="1175" x2="794" y2="1246"/><line x1="840" y1="1175" x2="855" y2="1246"/><line x1="840" y1="1175" x2="905" y2="1228"/>
<line x1="905" y1="1180" x2="968" y2="1203"/><line x1="905" y1="1180" x2="932" y2="1220"/><line x1="968" y1="1168" x2="1015" y2="1168"/><line x1="1015" y1="1168" x2="1056" y2="1127"/><line x1="1015" y1="1168" x2="1081" y2="1192"/><line x1="968" y1="1168" x2="1021" y2="1230"/>
<line x1="1021" y1="1230" x2="968" y2="1273"/><line x1="1021" y1="1230" x2="1081" y2="1273"/><line x1="1081" y1="1273" x2="1073" y2="1344"/><line x1="1021" y1="1230" x2="1028" y2="1322"/><line x1="1028" y1="1322" x2="986" y2="1379"/><line x1="1028" y1="1322" x2="1051" y2="1396"/><line x1="1051" y1="1396" x2="993" y2="1462"/><line x1="1051" y1="1396" x2="1091" y2="1462"/>
<line x1="794" y1="1246" x2="729" y2="1308"/><line x1="729" y1="1308" x2="704" y2="1379"/><line x1="794" y1="1246" x2="792" y2="1326"/><line x1="792" y1="1326" x2="788" y2="1396"/><line x1="788" y1="1396" x2="739" y2="1414"/>
<line x1="855" y1="1246" x2="845" y2="1291"/><line x1="855" y1="1246" x2="910" y2="1322"/><line x1="910" y1="1322" x2="870" y2="1378"/><line x1="870" y1="1378" x2="840" y2="1408"/><line x1="910" y1="1322" x2="940" y2="1409"/><line x1="940" y1="1409" x2="880" y2="1462"/>
</g>
<circle class="r" cx="892" cy="1112" r="18.5"/>
<g class="l"><line x1="892" y1="1112" x2="909" y2="1122"/><line x1="892" y1="1112" x2="896" y2="1130"/><line x1="892" y1="1112" x2="910" y2="1110"/></g>
<g class="y"><circle cx="951" cy="1104" r="7"/><circle cx="840" cy="1175" r="7"/><circle cx="905" cy="1180" r="7"/><circle cx="968" cy="1168" r="7"/></g>
<g class="p"><circle cx="774" cy="1162" r="7"/><circle cx="1015" cy="1168" r="7"/><circle cx="968" cy="1203" r="7"/><circle cx="932" cy="1220" r="7"/><circle cx="905" cy="1228" r="7"/><circle cx="1021" cy="1230" r="7"/><circle cx="794" cy="1246" r="7"/><circle cx="855" cy="1246" r="7"/></g>
<g class="g"><circle cx="1056" cy="1127" r="7"/><circle cx="1081" cy="1192" r="7"/><circle cx="729" cy="1192" r="7"/><circle cx="968" cy="1273" r="7"/><circle cx="1081" cy="1273" r="7"/><circle cx="729" cy="1308" r="7"/><circle cx="845" cy="1291" r="7"/><circle cx="792" cy="1326" r="7"/><circle cx="910" cy="1322" r="7"/><circle cx="1028" cy="1322" r="7"/></g>
<g class="t"><circle cx="729" cy="1256" r="7"/><circle cx="1073" cy="1344" r="7"/><circle cx="704" cy="1379" r="7"/><circle cx="870" cy="1378" r="7"/><circle cx="986" cy="1379" r="7"/><circle cx="788" cy="1396" r="7"/><circle cx="1051" cy="1396" r="7"/><circle cx="940" cy="1409" r="7"/></g>
<g class="s"><circle cx="739" cy="1414" r="7"/><circle cx="840" cy="1408" r="7"/><circle cx="880" cy="1462" r="7"/><circle cx="993" cy="1462" r="7"/><circle cx="1091" cy="1462" r="7"/></g>
<g>
<text class="n" x="957" y="1128">34,38,32</text><text class="n" x="892" y="1143">0,20,0</text><text class="n" x="1064" y="1150">14,28,21</text><text class="n" x="776" y="1186">23,16,2</text><text class="n" x="840" y="1196">1,20,1</text><text class="n" x="900" y="1203">24,71,33</text><text class="n" x="961" y="1186">2,30,19</text><text class="n" x="1020" y="1192">33,29,20</text><text class="n" x="976" y="1222">29,39,35</text><text class="n" x="930" y="1243">28,19,34</text><text class="n" x="1082" y="1214">22,94,22</text><text class="n" x="730" y="1217">13,29,3</text><text class="n" x="910" y="1252">3,78,12</text><text class="n" x="1016" y="1255">7,49,23</text><text class="n" x="792" y="1273">4,96,13</text><text class="n" x="845" y="1267">32,39,5</text><text class="n" x="968" y="1298">18,7,31</text><text class="n" x="1076" y="1298">16,3,24</text><text class="n" x="722" y="1277">31,59,4</text><text class="n" x="722" y="1333">15,23,14</text><text class="n" x="848" y="1315">17,79,11</text><text class="n" x="791" y="1351">5,28,16</text><text class="n" x="903" y="1343">6,33,6</text><text class="n" x="1024" y="1347">8,17,26</text><text class="n" x="1068" y="1366">35,36,25</text><text class="n" x="704" y="1403">30,99,15</text><text class="n" x="871" y="1403">20,37,9</text><text class="n" x="990" y="1403">19,43,30</text><text class="n" x="791" y="1417">21,68,17</text><text class="n" x="1051" y="1424">12,50,27</text><text class="n" x="737" y="1439">9,11,18</text><text class="n" x="848" y="1435">10,34,10</text><text class="n" x="941" y="1435">11,15,7</text><text class="n" x="878" y="1488">27,87,8</text><text class="n" x="991" y="1484">26,16,28</text><text class="n" x="1090" y="1488">25,43,29</text>
</g>
</svg>
</body></html>
